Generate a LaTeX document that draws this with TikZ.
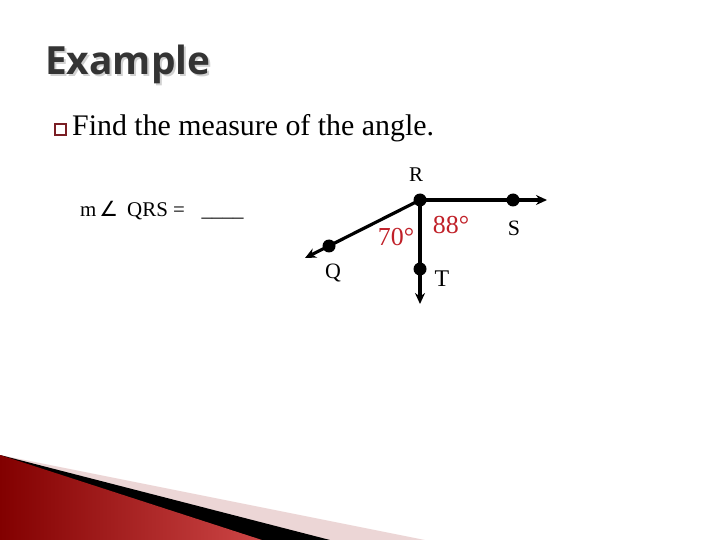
\documentclass[tikz,border=0pt]{standalone}
\usepackage{fontspec}
\setmainfont{Liberation Serif}
\newfontfamily\titlefont{Open Sans}
\newfontfamily\symfont{DejaVu Sans}
\usetikzlibrary{arrows.meta}
\definecolor{angred}{RGB}{192,32,40}
\definecolor{boxred}{RGB}{122,30,36}
\definecolor{titlegray}{RGB}{52,52,52}
\definecolor{bandpink}{RGB}{236,214,214}
\definecolor{darkred}{RGB}{130,0,0}
\definecolor{litered}{RGB}{205,70,70}
\tikzset{
  ray/.style={line width=3.2bp,-{Stealth[length=11bp,width=10bp]}},
  dot/.style={circle,fill=black,inner sep=0pt,minimum size=13bp},
  txt/.style={anchor=base west,inner sep=0pt},
  lbl/.style={font=\fontsize{22}{26}\selectfont},
  deg/.style={font=\fontsize{26}{30}\selectfont,text=angred},
}

\begin{document}
\begin{tikzpicture}[x=1bp,y=-1bp]
\useasboundingbox (0,0) rectangle (720,540);
%\draw[step=50,gray,very thin] (0,0) grid (720,540);
% corner decoration
\fill[bandpink] (0,455) -- (425,540) -- (0,540) -- cycle;
\fill[black] (0,455) -- (330,540) -- (0,540) -- cycle;
\shade[left color=darkred,right color=litered] (0,455) -- (262,540) -- (0,540) -- cycle;
% title and text
\node[txt,text=black!18,font=\titlefont\bfseries\fontsize{39}{45}\selectfont] at (47,77) {Example};
\node[txt,text=titlegray,font=\titlefont\bfseries\fontsize{39}{45}\selectfont] (title) at (45,75) {Example};
\draw[boxred,line width=1.6bp] (55,124) rectangle (66,135);
\node[txt,font=\fontsize{30}{36}\selectfont] (task) at (72,136) {Find the measure of the angle.};
\node[txt,font=\fontsize{21}{25}\selectfont] (ask) at (80,217) {m\hspace{3bp}{\symfont ∠}\hspace{9bp}QRS =\hspace{0.8em}\_\_\_\_};
% rays
\node[dot] (R) at (420,200) {};
\node[dot] (S) at (513,200) {};
\node[dot] (Q) at (329,246) {};
\node[dot] (T) at (420,269) {};
\coordinate (Send) at (547,200);
\coordinate (Qend) at (305,258);
\coordinate (Tend) at (420,304);
\draw[ray] (R.center) -- (Send);
\draw[ray] (R.center) -- (Qend);
\draw[ray] (R.center) -- (Tend);
\node[font=\fontsize{21}{25}\selectfont] (labR) at (416,175) {R};
\node[lbl] (labS) at (514,228) {S};
\node[lbl] (labQ) at (333,273) {Q};
\node[font=\fontsize{24}{28}\selectfont] (labT) at (442,279) {T};
\node[deg] (angQRT) at (396,237) {70°};
\node[deg] (angTRS) at (451,225) {88°};
\end{tikzpicture}
\end{document}
